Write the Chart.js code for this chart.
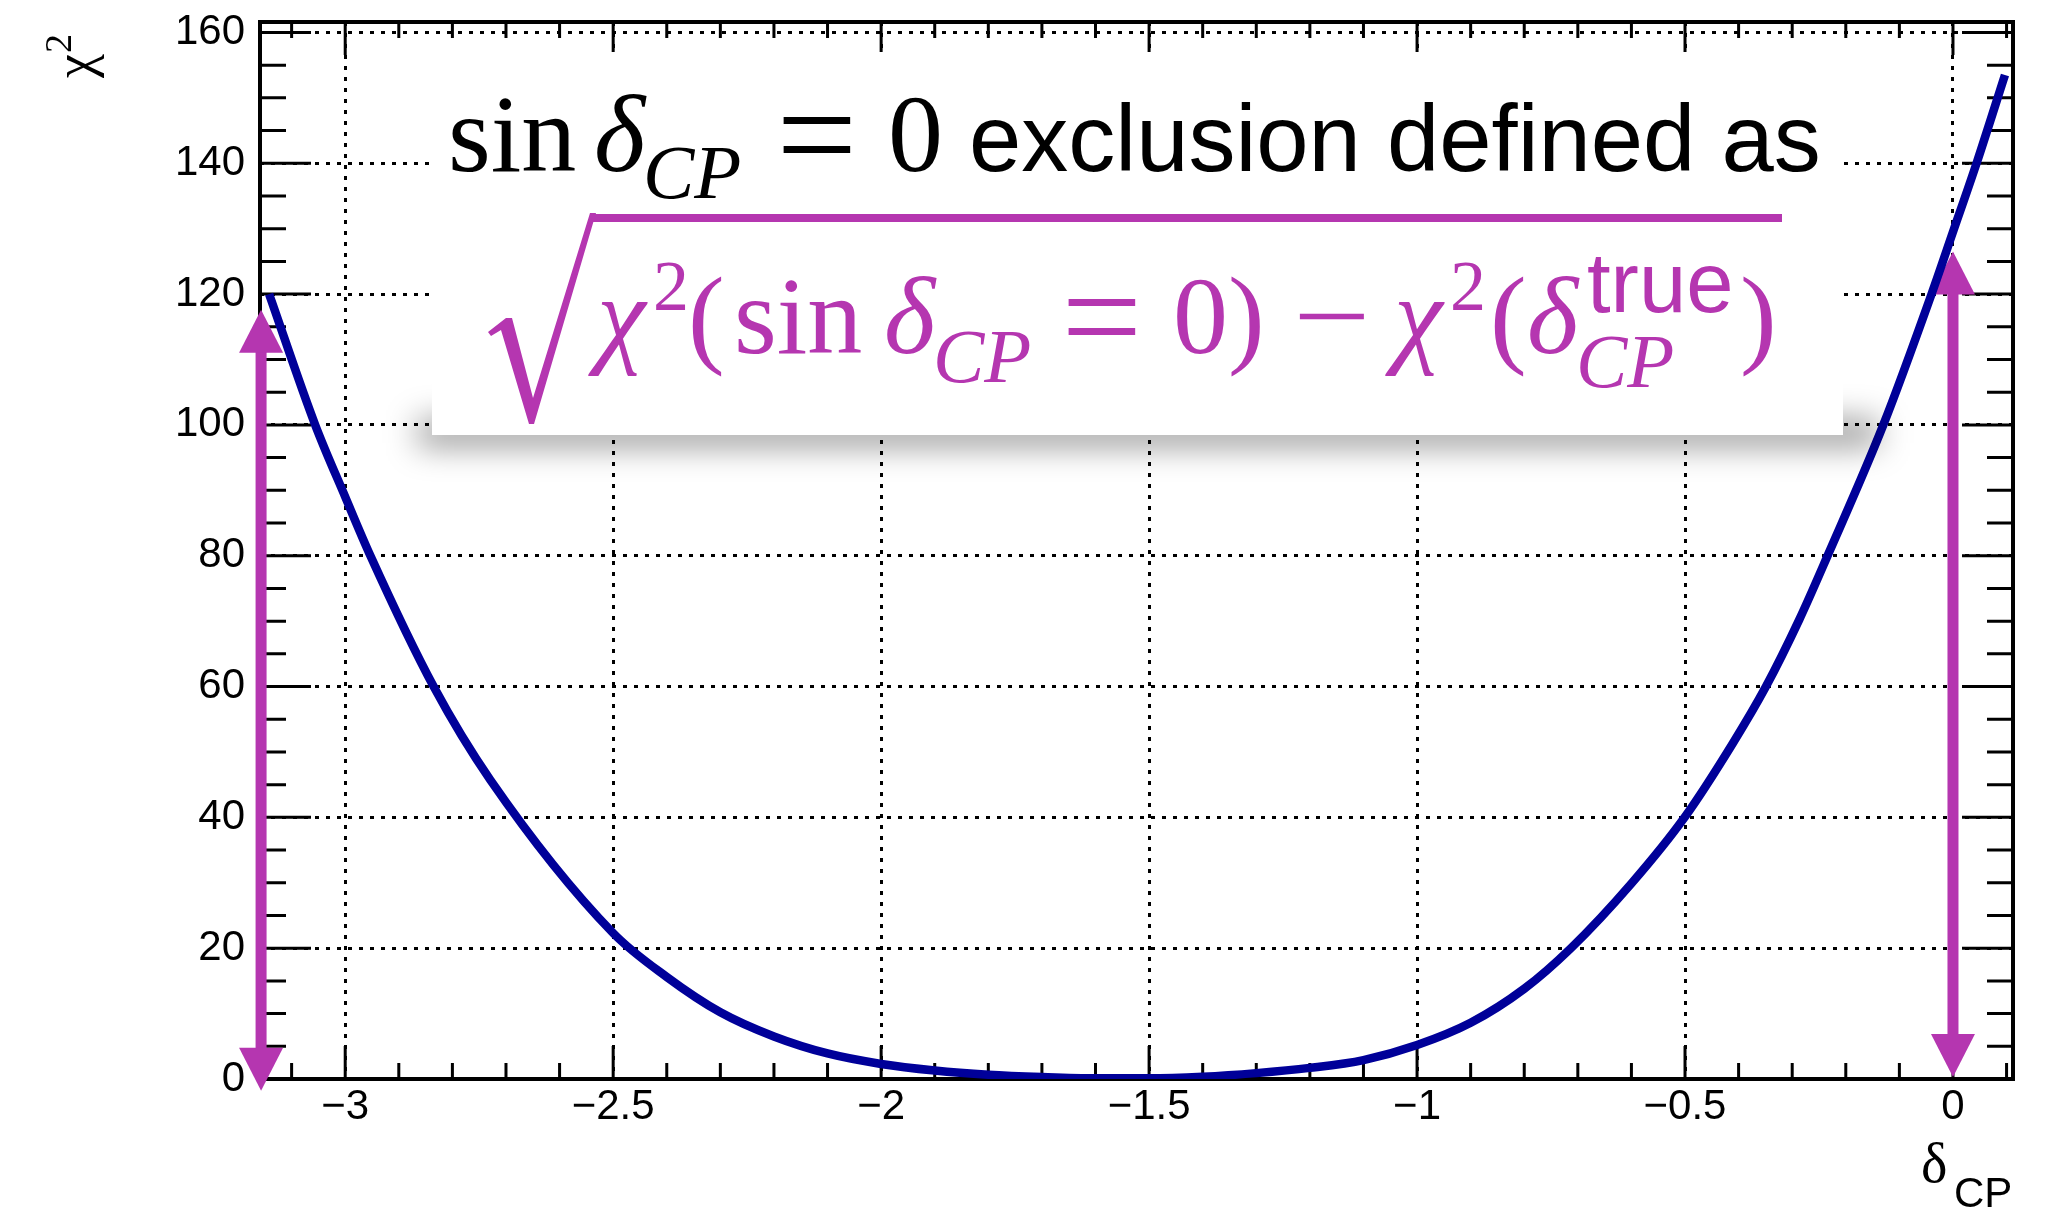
<!DOCTYPE html>
<html>
<head>
<meta charset="utf-8">
<title>chi2 vs deltaCP</title>
<script src="https://cdn.jsdelivr.net/npm/chart.js@4.4.1/dist/chart.umd.min.js"></script>
<style>
  html, body { margin: 0; padding: 0; background: #fff; }
  canvas { display: block; }
</style>
</head>
<body>
<canvas id="chi2" width="2050" height="1211"></canvas>
<script>
// curve
const deltaCP = [-3.142, -3.056, -3.000, -2.953, -2.835, -2.729, -2.500, -2.400, -2.300,
  -2.200, -2.100, -2.000, -1.900, -1.800, -1.700, -1.600, -1.500, -1.400, -1.300,
  -1.200, -1.100, -1.000, -0.900, -0.800, -0.713, -0.600, -0.500, -0.411,
  -0.349, -0.287, -0.234, -0.130, -0.040, 0.000, 0.044, 0.097];
const chi2 = [120.0, 100.0, 89.0, 80.0, 60.0, 45.7, 22.3, 15.6, 10.2,
  6.5, 3.9, 2.3, 1.3, 0.66, 0.3, 0.1, 0.1, 0.35, 0.9,
  1.7, 2.9, 5.2, 8.6, 13.8, 20.0, 29.9, 40.1, 51.3,
  60.0, 70.2, 80.0, 100.0, 120.0, 129.5, 140.0, 153.5];

const xTickValues = [-3, -2.5, -2, -1.5, -1, -0.5, 0];
const yTickValues = [0, 20, 40, 60, 80, 100, 120, 140, 160];

// the two magenta arrows (x position, bottom tip, top tip)
const arrowDelta = [-3.157, 0];
const arrowLow = [-1.8, 0.3];
const arrowHigh = [117.6, 126.5];

const xRange = [-3.159, 0.112];
const yRange = [0, 161.6];

const magenta = '#b536b0';
const serif = "'Liberation Serif'";
const sans = "'Liberation Sans'";

// ROOT style ticks pointing inwards on all four sides + frame
const frame = {
  id: 'frame',
  beforeDatasetsDraw(chart) {
    const {ctx, chartArea: a, scales: {x, y}} = chart;
    ctx.save();
    ctx.strokeStyle = '#000';
    ctx.lineWidth = 3;
    ctx.beginPath();
    for (let i = -31; i <= 1; i++) {
      const px = x.getPixelForValue(i / 10);
      const len = i % 5 === 0 ? 33 : 16;
      ctx.moveTo(px, a.bottom); ctx.lineTo(px, a.bottom - len);
      ctx.moveTo(px, a.top); ctx.lineTo(px, a.top + len);
    }
    for (let v = 0; v <= 160; v += 5) {
      const py = y.getPixelForValue(v);
      const len = v % 20 === 0 ? 51 : 26;
      ctx.moveTo(a.left, py); ctx.lineTo(a.left + len, py);
      ctx.moveTo(a.right, py); ctx.lineTo(a.right - len, py);
    }
    ctx.stroke();
    ctx.lineWidth = 4;
    ctx.strokeRect(a.left, a.top, a.right - a.left, a.bottom - a.top);
    ctx.restore();
  }
};

const arrows = {
  id: 'arrows',
  beforeDatasetsDraw(chart) {
    const {ctx, scales: {x, y}} = chart;
    const head = 43, half = 22;
    ctx.save();
    ctx.fillStyle = magenta;
    arrowDelta.forEach((d, i) => {
      const px = x.getPixelForValue(d);
      const top = y.getPixelForValue(arrowHigh[i]);
      const bot = y.getPixelForValue(arrowLow[i]);
      ctx.fillRect(px - 5.5, top + head - 1, 11, bot - top - 2 * head + 2);
      ctx.beginPath();
      ctx.moveTo(px, top); ctx.lineTo(px - half, top + head); ctx.lineTo(px + half, top + head);
      ctx.fill();
      ctx.beginPath();
      ctx.moveTo(px, bot); ctx.lineTo(px - half, bot - head); ctx.lineTo(px + half, bot - head);
      ctx.fill();
    });
    ctx.restore();
  }
};

// place a piece of text by the left edge of its ink, optionally stretched
function put(ctx, str, font, inkLeft, baseline, sx = 1, sy = 1, dy = 0) {
  ctx.font = font;
  const m = ctx.measureText(str);
  ctx.save();
  ctx.translate(inkLeft + m.actualBoundingBoxLeft * sx, baseline + dy);
  ctx.scale(sx, sy);
  ctx.fillText(str, 0, 0);
  ctx.restore();
}

const formulaBox = {
  id: 'formulaBox',
  afterDatasetsDraw(chart) {
    const ctx = chart.ctx;
    ctx.save();
    // soft contact shadow under the box
    ctx.filter = 'blur(16px)';
    ctx.fillStyle = 'rgba(0,0,0,0.42)';
    ctx.fillRect(418, 420, 1460, 26);
    ctx.filter = 'none';
    ctx.fillStyle = '#fff';
    ctx.fillRect(432, 52, 1411, 383);

    ctx.textAlign = 'left';
    ctx.textBaseline = 'alphabetic';
    // line 1
    ctx.fillStyle = '#000';
    put(ctx, 'sin', `110px ${serif}`, 452, 171);
    put(ctx, 'δ', `italic 110px ${serif}`, 597, 171);
    put(ctx, 'CP', `italic 77px ${serif}`, 647, 198);
    put(ctx, '=', `110px ${serif}`, 783, 171, 1.3, 1.3, 11);
    put(ctx, '0', `110px ${serif}`, 892, 171);
    put(ctx, 'exclusion defined as', `94px ${sans}`, 973, 171);

    // line 2: square root
    ctx.fillStyle = magenta;
    ctx.beginPath();
    ctx.moveTo(488, 332); ctx.lineTo(506, 318); ctx.lineTo(512, 318);
    ctx.lineTo(533, 398); ctx.lineTo(590, 213); ctx.lineTo(596, 213);
    ctx.lineTo(534, 424); ctx.lineTo(529, 424); ctx.lineTo(501, 330); ctx.lineTo(491, 336);
    ctx.closePath();
    ctx.fill();
    ctx.fillRect(591, 214, 1191, 8);

    put(ctx, 'χ', `italic 110px ${serif}`, 588, 353);
    put(ctx, '2', `72px ${serif}`, 656, 310);
    put(ctx, '(', `110px ${serif}`, 692, 353);
    put(ctx, 'sin', `110px ${serif}`, 738, 353);
    put(ctx, 'δ', `italic 110px ${serif}`, 887, 353);
    put(ctx, 'CP', `italic 77px ${serif}`, 937, 382);
    put(ctx, '=', `110px ${serif}`, 1068, 353, 1.3, 1.3, 11);
    put(ctx, '0', `110px ${serif}`, 1177, 353);
    put(ctx, ')', `110px ${serif}`, 1231, 353);
    put(ctx, '−', `110px ${serif}`, 1299, 353, 1.25, 1, 0);
    put(ctx, 'χ', `italic 110px ${serif}`, 1385, 353);
    put(ctx, '2', `72px ${serif}`, 1453, 310);
    put(ctx, '(', `110px ${serif}`, 1494, 353);
    put(ctx, 'δ', `italic 110px ${serif}`, 1530, 353);
    put(ctx, 'true', `85px ${sans}`, 1588, 312);
    put(ctx, 'CP', `italic 77px ${serif}`, 1580, 387);
    put(ctx, ')', `110px ${serif}`, 1743, 353);
    ctx.restore();
  },
  afterDraw(chart) {
    const ctx = chart.ctx;
    ctx.save();
    ctx.fillStyle = '#000';
    ctx.textAlign = 'left';
    ctx.textBaseline = 'alphabetic';
    // y title, rotated
    ctx.translate(92, 78);
    ctx.rotate(-Math.PI / 2);
    ctx.font = `54px ${serif}`;
    ctx.fillText('χ', 0, 0);
    const w = ctx.measureText('χ').width;
    ctx.font = `38px ${serif}`;
    ctx.fillText('2', w + 1, -21);
    ctx.setTransform(1, 0, 0, 1, 0, 0);
    // x title
    put(ctx, 'δ', `56px ${serif}`, 1923, 1182);
    put(ctx, 'CP', `42px ${sans}`, 1956, 1207);
    ctx.restore();
  }
};

const minus = v => (v < 0 ? '−' + Math.abs(v) : String(v));

new Chart(document.getElementById('chi2'), {
  type: 'scatter',
  data: {
    datasets: [{
      data: deltaCP.map((d, i) => ({x: d, y: chi2[i]})),
      showLine: true,
      borderColor: '#000099',
      borderWidth: 8.5,
      pointRadius: 0,
      cubicInterpolationMode: 'monotone'
    }]
  },
  options: {
    responsive: false,
    animation: false,
    layout: {padding: {left: 0, top: 22, right: 37, bottom: 0}},
    plugins: {legend: {display: false}, tooltip: {enabled: false}},
    scales: {
      x: {
        type: 'linear',
        min: xRange[0],
        max: xRange[1],
        afterBuildTicks: s => { s.ticks = xTickValues.map(v => ({value: v})); },
        afterFit: s => { s.height = 132; },
        grid: {color: '#000', lineWidth: 3, drawTicks: true, tickLength: 3, tickColor: 'rgba(0,0,0,0)'},
        border: {display: false, dash: [4, 7]},
        ticks: {
          color: '#000',
          padding: 0,
          maxRotation: 0,
          font: {family: 'Liberation Sans', size: 42, lineHeight: 1.2},
          callback: minus
        }
      },
      y: {
        type: 'linear',
        min: yRange[0],
        max: yRange[1],
        afterBuildTicks: s => { s.ticks = yTickValues.map(v => ({value: v})); },
        afterFit: s => { s.width = 260; },
        grid: {color: '#000', lineWidth: 3, drawTicks: true, tickLength: 15, tickColor: 'rgba(0,0,0,0)'},
        border: {display: false, dash: [4, 7]},
        ticks: {
          color: '#000',
          padding: 0,
          font: {family: 'Liberation Sans', size: 42, lineHeight: 1.0}
        }
      }
    }
  },
  plugins: [frame, arrows, formulaBox]
});
</script>
</body>
</html>
